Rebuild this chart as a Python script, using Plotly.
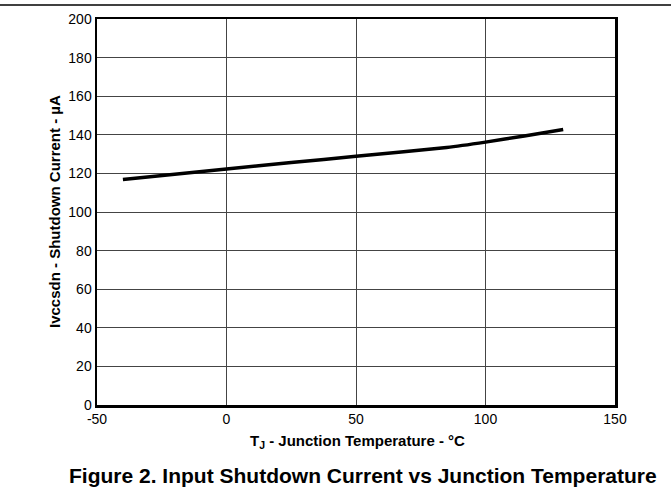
import plotly.graph_objects as go

temps = [-40, 0, 25, 50, 85, 100, 115, 130]
current = [116.8, 122.3, 125.6, 128.9, 133.4, 136.2, 139.4, 142.7]

x_ticks = [-50, 0, 50, 100, 150]
y_ticks = [0, 20, 40, 60, 80, 100, 120, 140, 160, 180, 200]

W, H = 671, 491
L, T = 97, 19
pw, ph = 615 - 97, 405 - 19
R, B = W - L - pw, H - T - ph

def px_x(p):
    return (p - L) / pw

def px_y(p):
    return (T + ph - p) / ph

fig = go.Figure()
fig.add_trace(go.Scatter(x=temps, y=current, mode="lines",
                         line=dict(color="black", width=3.5, shape="spline", smoothing=0.4),
                         showlegend=False, hoverinfo="skip"))

font = "Liberation Sans, Arial, sans-serif"
axis_common = dict(showline=True, linecolor="black", linewidth=2.5, mirror=True,
                   showgrid=True, gridcolor="#444", gridwidth=1, zeroline=False,
                   ticks="", tickfont=dict(family=font, size=14, color="black"))

fig.update_xaxes(range=[-50, 150], tickvals=x_ticks, ticktext=[str(v) for v in x_ticks], **axis_common)
fig.update_yaxes(range=[0, 200], tickvals=y_ticks, ticktext=[str(v) for v in y_ticks], **axis_common)

fig.update_layout(
    width=W, height=H,
    margin=dict(l=L, r=R, t=T, b=B),
    plot_bgcolor="white", paper_bgcolor="white",
    font=dict(family=font, color="black"),
    shapes=[dict(type="line", xref="paper", yref="paper",
                 x0=px_x(0), x1=px_x(W), y0=px_y(5), y1=px_y(5),
                 line=dict(color="black", width=1.5))],
    annotations=[
        dict(text="<b>T<sub>J</sub> - Junction Temperature - °C</b>", xref="paper", yref="paper",
             x=px_x(357), y=px_y(442), showarrow=False, xanchor="center", yanchor="middle",
             font=dict(family=font, size=15, color="black")),
        dict(text="<b>Ivccsdn - Shutdown Current - µA</b>", xref="paper", yref="paper",
             x=px_x(54), y=px_y(212), showarrow=False, textangle=-90, xanchor="center", yanchor="middle",
             font=dict(family=font, size=15, color="black")),
        dict(text="<b>Figure 2. Input Shutdown Current vs Junction Temperature</b>", xref="paper", yref="paper",
             x=px_x(362.5), y=px_y(475), showarrow=False, xanchor="center", yanchor="middle",
             font=dict(family=font, size=21, color="black")),
    ],
)

fig.write_html("out.html", config={"displayModeBar": False, "staticPlot": True},
               post_script="document.body.style.margin='0';document.body.style.overflow='hidden';")
